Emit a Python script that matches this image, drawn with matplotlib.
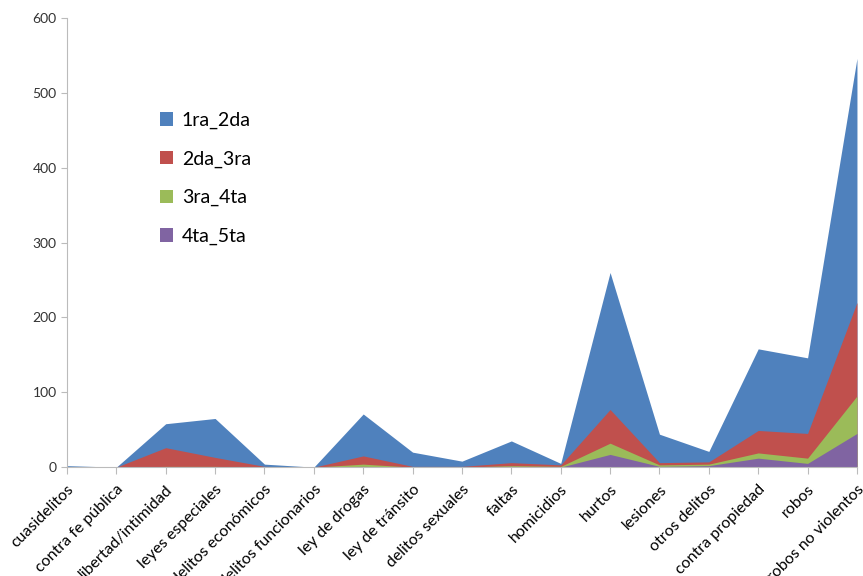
import matplotlib.pyplot as plt
import numpy as np
from matplotlib.patches import Patch

categorias = ['cuasidelitos', 'contra fe pública', 'libertad/intimidad', 'leyes especiales',
              'delitos económicos', 'delitos funcionarios', 'ley de drogas', 'ley de tránsito',
              'delitos sexuales', 'faltas', 'homicidios', 'hurtos', 'lesiones', 'otros delitos',
              'contra propiedad', 'robos', 'robos no violentos']

s_1ra_2da = [2, 0, 58, 65, 4, 0, 71, 20, 8, 35, 5, 260, 44, 21, 158, 146, 546]
s_2da_3ra = [0, 0, 26, 13, 1, 0, 15, 1, 1, 6, 3, 77, 6, 7, 49, 45, 220]
s_3ra_4ta = [0, 0, 1, 1, 0, 0, 4, 0, 0, 2, 1, 32, 3, 4, 19, 12, 95]
s_4ta_5ta = [0, 0, 0, 0, 0, 0, 1, 0, 0, 1, 0, 17, 1, 2, 12, 5, 45]

series = [('1ra_2da', s_1ra_2da, '#4F81BD'),
          ('2da_3ra', s_2da_3ra, '#C0504D'),
          ('3ra_4ta', s_3ra_4ta, '#9BBB59'),
          ('4ta_5ta', s_4ta_5ta, '#8064A2')]

plt.rcParams['font.family'] = ['Lato', 'DejaVu Sans']

fig = plt.figure(figsize=(8.63, 5.76), dpi=100)
ax = fig.add_axes([0.0776, 0.189, 0.9154, 0.7798])

x = np.arange(len(categorias))
handles = []
for name, vals, col in series:
    ax.fill_between(x, 0, vals, color=col, linewidth=0)
    handles.append(Patch(facecolor=col, label=name))

ax.set_xlim(0, len(categorias) - 1)
ax.set_ylim(0, 600)
ax.set_yticks(range(0, 601, 100))
ax.set_xticks(x)
ax.set_xticklabels(categorias, rotation=45, ha='right', rotation_mode='anchor', fontsize=11.5)
ax.tick_params(axis='y', labelsize=10, colors='#333333', length=4, color='#BBBBBB')
ax.tick_params(axis='x', length=5, color='#BBBBBB', pad=6)

for side in ['top', 'right']:
    ax.spines[side].set_visible(False)
ax.spines['left'].set_color('#BBBBBB')
ax.spines['bottom'].set_color('#BBBBBB')

leg = ax.legend(handles=handles, loc='upper left', bbox_to_anchor=(0.095, 0.83),
                frameon=False, fontsize=14, handlelength=0.7, handleheight=0.7,
                handletextpad=0.45, labelspacing=1.1)

fig.savefig('out.png', dpi=100)
